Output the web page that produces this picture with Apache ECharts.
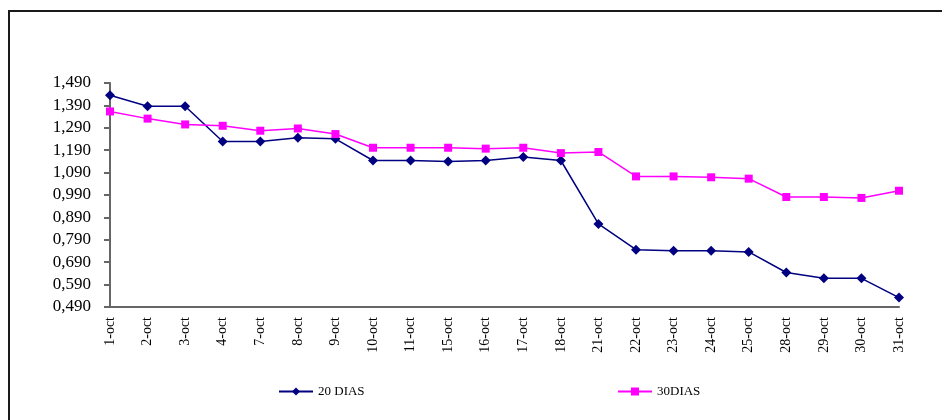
<!DOCTYPE html>
<html>
<head>
<meta charset="utf-8">
<script src="https://cdn.jsdelivr.net/npm/echarts@6/dist/echarts.min.js"></script>
<style>
  html, body { margin: 0; padding: 0; background: #fff; }
  #chart { width: 942px; height: 420px; }
</style>
</head>
<body>
<div id="chart"></div>
<script>
// fechas (solo días hábiles de octubre)
var days = ['1-oct', '2-oct', '3-oct', '4-oct', '7-oct', '8-oct', '9-oct', '10-oct', '11-oct',
  '15-oct', '16-oct', '17-oct', '18-oct', '21-oct', '22-oct', '23-oct', '24-oct', '25-oct',
  '28-oct', '29-oct', '30-oct', '31-oct'];

var dias20 = [1.435, 1.386, 1.386, 1.229, 1.229, 1.246, 1.241, 1.144, 1.144, 1.139, 1.144,
  1.160, 1.144, 0.861, 0.746, 0.741, 0.741, 0.736, 0.644, 0.618, 0.618, 0.532];

var dias30 = [1.363, 1.331, 1.305, 1.299, 1.277, 1.287, 1.262, 1.201, 1.201, 1.201, 1.197,
  1.201, 1.177, 1.182, 1.073, 1.073, 1.069, 1.063, 0.981, 0.981, 0.977, 1.009];

var yTicks = [0.49, 0.59, 0.69, 0.79, 0.89, 0.99, 1.09, 1.19, 1.29, 1.39, 1.49];

var chart = echarts.init(document.getElementById('chart'));
var font = 'Liberation Serif';

var option = {
  animation: false,
  backgroundColor: '#fff',
  graphic: [{
    type: 'rect',
    shape: { x: 9, y: 11, width: 1000, height: 500 },
    style: { fill: 'none', stroke: '#1a1a1a', lineWidth: 2 },
    silent: true
  }],
  legend: [{
    left: 273,
    top: 380,
    itemWidth: 34,
    itemHeight: 10,
    textStyle: { fontFamily: font, fontSize: 13, color: '#000' },
    data: ['20 DIAS']
  }, {
    left: 612,
    top: 380,
    itemWidth: 34,
    itemHeight: 10,
    textStyle: { fontFamily: font, fontSize: 13, color: '#000' },
    data: ['30DIAS']
  }],
  grid: { left: 110, right: 43, top: 83, bottom: 113 },
  xAxis: {
    type: 'category',
    boundaryGap: false,
    data: days,
    axisLine: { lineStyle: { color: '#666', width: 2 } },
    axisTick: { show: false },
    axisLabel: {
      interval: 0,
      rotate: 90,
      margin: 10,
      fontFamily: font,
      fontSize: 14,
      color: '#000'
    }
  },
  yAxis: {
    type: 'value',
    min: 0.49,
    max: 1.49,
    splitLine: { show: false },
    axisLine: { show: true, lineStyle: { color: '#666', width: 2 } },
    axisTick: { show: true, length: 6, customValues: yTicks, lineStyle: { color: '#666', width: 2 } },
    axisLabel: {
      customValues: yTicks,
      margin: 19,
      fontFamily: font,
      fontSize: 17,
      color: '#000',
      formatter: function (v) { return v.toFixed(3).replace('.', ','); }
    }
  },
  series: [{
    name: '20 DIAS',
    type: 'line',
    data: dias20,
    symbol: 'diamond',
    symbolSize: 10,
    color: '#000080',
    lineStyle: { width: 1.5, color: '#000080' },
    itemStyle: { color: '#000080' }
  }, {
    name: '30DIAS',
    type: 'line',
    data: dias30,
    symbol: 'rect',
    symbolSize: 8,
    color: '#FF00FF',
    lineStyle: { width: 1.5, color: '#FF00FF' },
    itemStyle: { color: '#FF00FF' }
  }]
};
chart.setOption(option);
</script>
</body>
</html>
